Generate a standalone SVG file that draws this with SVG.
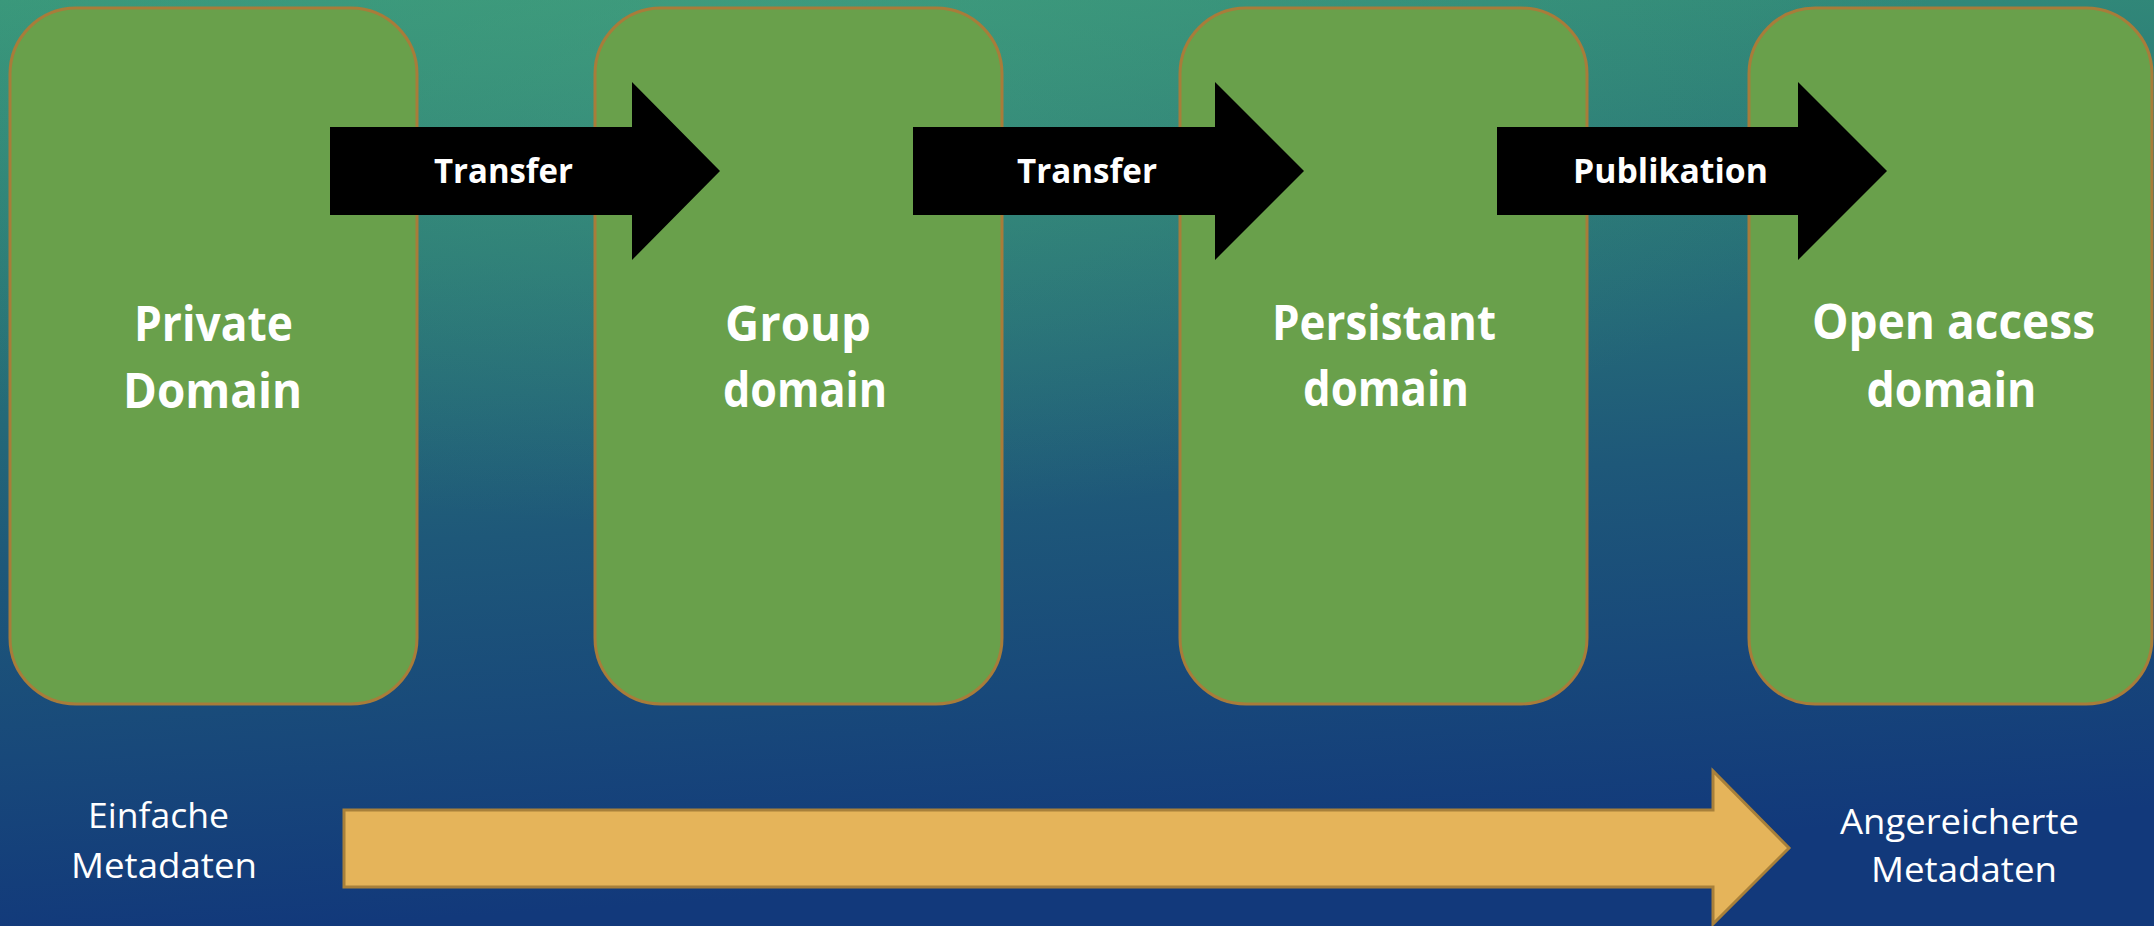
<svg xmlns="http://www.w3.org/2000/svg" width="2154" height="926" viewBox="0 0 2154 926">
  <defs>
    <linearGradient id="bg" x1="0" y1="0" x2="0.15" y2="1">
      <stop offset="0" stop-color="#37957a"/>
      <stop offset="0.3" stop-color="#2a7877"/>
      <stop offset="0.6" stop-color="#1e5879"/>
      <stop offset="1" stop-color="#12397b"/>
    </linearGradient>
    <radialGradient id="glow" cx="0.35" cy="0.02" r="0.55">
      <stop offset="0" stop-color="#4aa880" stop-opacity="0.45"/>
      <stop offset="1" stop-color="#4aa880" stop-opacity="0"/>
    </radialGradient>
    <style>
      .box { fill: #69a04b; stroke: #a87c3a; stroke-width: 3; }
      .flow { fill: #000000; }
      .big { font-family: "Open Sans", "Noto Sans", sans-serif; font-weight: 700; font-size: 48px; fill: #ffffff; text-anchor: middle; }
      .lbl { font-family: "Open Sans", "Noto Sans", sans-serif; font-weight: 700; font-size: 33.5px; fill: #ffffff; text-anchor: middle; }
      .meta { font-family: "Open Sans", "Noto Sans", sans-serif; font-weight: 400; font-size: 35px; fill: #ffffff; text-anchor: middle; }
      .yarrow { fill: #e5b45a; stroke: #a8803a; stroke-width: 3; }
    </style>
  </defs>
  <rect x="0" y="0" width="2154" height="926" fill="url(#bg)"/>
  <rect x="0" y="0" width="2154" height="926" fill="url(#glow)"/>

  <g id="node-private">
    <rect class="box" x="10" y="8" width="407" height="696" rx="66" ry="66"/>
    <text class="big" x="213.5" y="341" textLength="159" lengthAdjust="spacingAndGlyphs">Private</text>
    <text class="big" x="212.5" y="408" textLength="179" lengthAdjust="spacingAndGlyphs">Domain</text>
  </g>
  <g id="node-group">
    <rect class="box" x="595" y="8" width="407" height="696" rx="66" ry="66"/>
    <text class="big" x="798" y="341" textLength="146" lengthAdjust="spacingAndGlyphs">Group</text>
    <text class="big" x="805" y="407" textLength="164" lengthAdjust="spacingAndGlyphs">domain</text>
  </g>
  <g id="node-persistant">
    <rect class="box" x="1180" y="8" width="407" height="696" rx="66" ry="66"/>
    <text class="big" x="1384" y="340" textLength="224" lengthAdjust="spacingAndGlyphs">Persistant</text>
    <text class="big" x="1386" y="406" textLength="166" lengthAdjust="spacingAndGlyphs">domain</text>
  </g>
  <g id="node-open">
    <rect class="box" x="1749" y="8" width="403" height="696" rx="66" ry="66"/>
    <text class="big" x="1953.5" y="339" textLength="283" lengthAdjust="spacingAndGlyphs">Open access</text>
    <text class="big" x="1951.5" y="407" textLength="170" lengthAdjust="spacingAndGlyphs">domain</text>
  </g>

  <g id="connectors">
    <g id="edge-transfer-1">
      <polygon class="flow" points="330,127 632,127 632,82 720,171 632,260 632,215 330,215"/>
      <text class="lbl" x="503.5" y="183" textLength="139" lengthAdjust="spacingAndGlyphs">Transfer</text>
    </g>
    <g id="edge-transfer-2">
      <polygon class="flow" points="913,127 1215,127 1215,82 1304,171 1215,260 1215,215 913,215"/>
      <text class="lbl" x="1087" y="183" textLength="140" lengthAdjust="spacingAndGlyphs">Transfer</text>
    </g>
    <g id="edge-publikation">
      <polygon class="flow" points="1497,127 1798,127 1798,82 1887,171 1798,260 1798,215 1497,215"/>
      <text class="lbl" x="1670.5" y="183" textLength="195" lengthAdjust="spacingAndGlyphs">Publikation</text>
    </g>
    <g id="edge-metadata">
      <polygon class="yarrow" points="344,810 1713,810 1713,771 1789,848 1713,924 1713,887 344,887"/>
    </g>
  </g>

  <g id="label-einfache">
    <text class="meta" x="158.5" y="828" textLength="141" lengthAdjust="spacingAndGlyphs">Einfache</text>
    <text class="meta" x="164" y="878" textLength="186" lengthAdjust="spacingAndGlyphs">Metadaten</text>
  </g>
  <g id="label-angereichert">
    <text class="meta" x="1959.5" y="834" textLength="239" lengthAdjust="spacingAndGlyphs">Angereicherte</text>
    <text class="meta" x="1964" y="882" textLength="186" lengthAdjust="spacingAndGlyphs">Metadaten</text>
  </g>
</svg>
